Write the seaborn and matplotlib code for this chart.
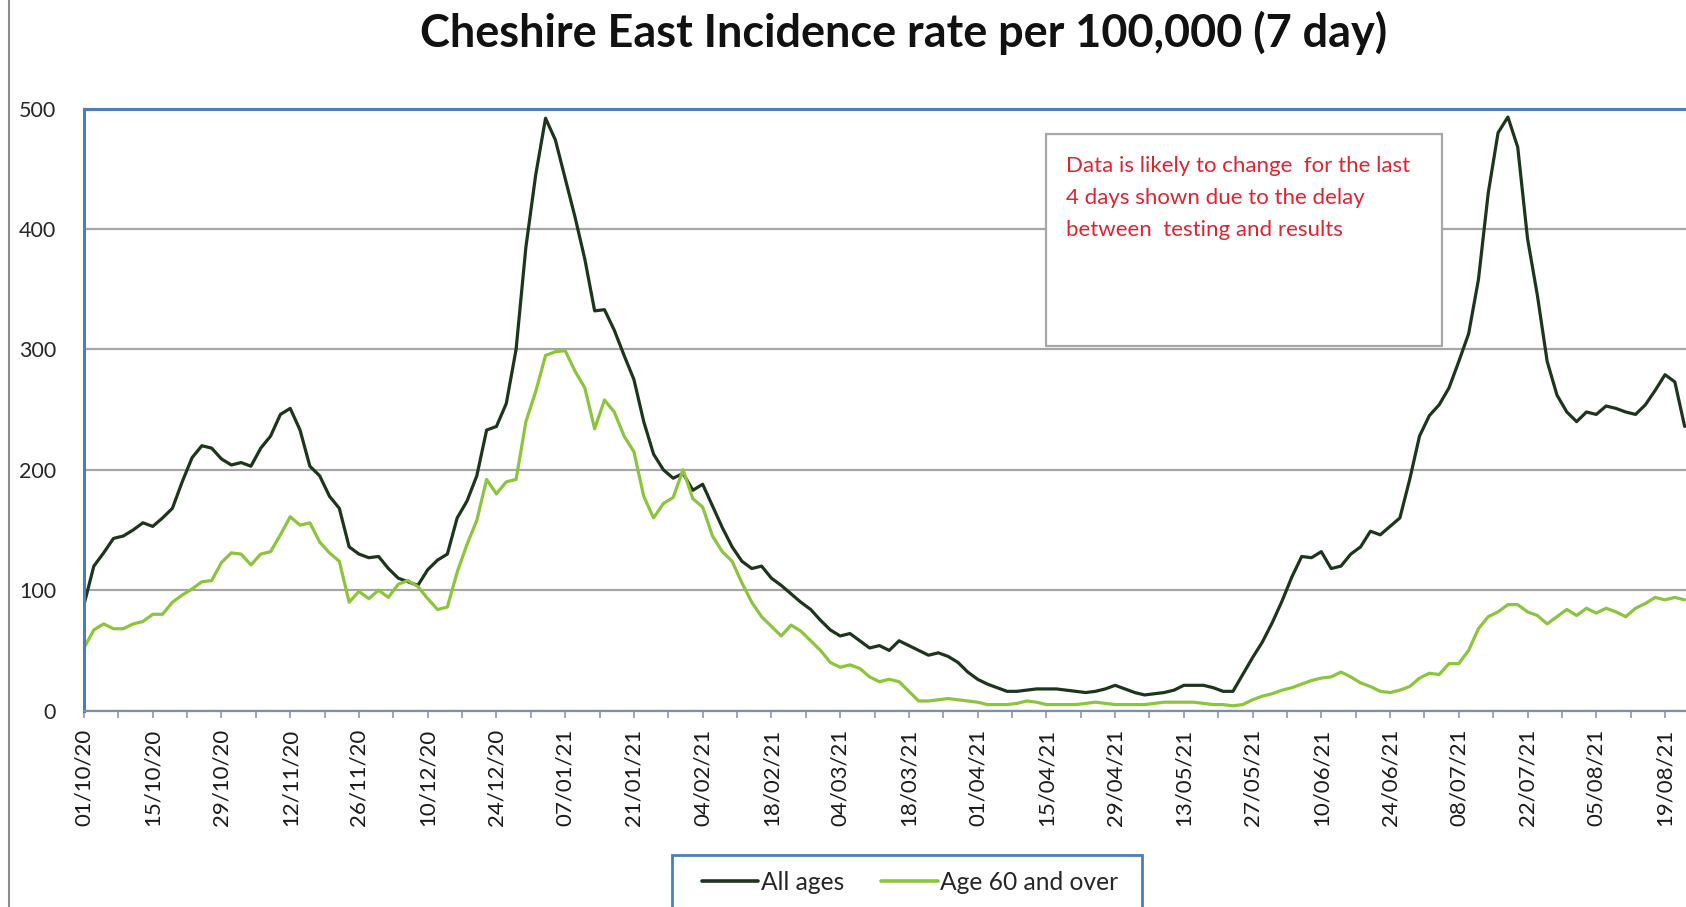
import numpy as np
import pandas as pd
import matplotlib
matplotlib.use("Agg")
import matplotlib.pyplot as plt
import matplotlib.dates as mdates
from matplotlib.lines import Line2D
from matplotlib.patches import Rectangle
import seaborn as sns

# ---------------- data (7-day incidence per 100,000, every 2 days from 01/10/20) ----------------
start_date = "2020-10-01"
step_days = 2
all_ages = [
    88, 120, 131, 143, 145, 150, 156, 153, 160, 168,
    190, 210, 220, 218, 209, 204, 206, 203, 218, 228,
    246, 251, 233, 203, 195, 178, 168, 136, 130, 127,
    128, 118, 110, 107, 104, 117, 125, 130, 160, 174,
    195, 233, 236, 255, 300, 385, 445, 492, 474, 442,
    410, 375, 332, 333, 316, 295, 275, 240, 213, 200,
    193, 197, 183, 188, 170, 152, 136, 124, 118, 120,
    110, 104, 97, 90, 84, 75, 67, 62, 64, 58,
    52, 54, 50, 58, 54, 50, 46, 48, 45, 40,
    32, 26, 22, 19, 16, 16, 17, 18, 18, 18,
    17, 16, 15, 16, 18, 21, 18, 15, 13, 14,
    15, 17, 21, 21, 21, 19, 16, 16, 30, 44,
    57, 73, 91, 111, 128, 127, 132, 118, 120, 130,
    136, 149, 146, 153, 160, 192, 228, 245, 254, 268,
    290, 313, 358, 430, 480, 493, 468, 392, 345, 290,
    262, 248, 240, 248, 246, 253, 251, 248, 246, 254,
    266, 279, 273, 236,
]
age_60_plus = [
    52, 67, 72, 68, 68, 72, 74, 80, 80, 90,
    96, 101, 107, 108, 123, 131, 130, 121, 130, 132,
    146, 161, 154, 156, 140, 131, 124, 90, 99, 93,
    100, 94, 105, 108, 103, 93, 84, 86, 115, 138,
    158, 192, 180, 190, 192, 240, 265, 295, 298, 299,
    282, 268, 234, 258, 248, 228, 215, 178, 160, 172,
    177, 200, 176, 169, 145, 132, 124, 106, 90, 78,
    70, 62, 71, 66, 58, 50, 40, 36, 38, 35,
    28, 24, 26, 24, 16, 8, 8, 9, 10, 9,
    8, 7, 5, 5, 5, 6, 8, 7, 5, 5,
    5, 5, 6, 7, 6, 5, 5, 5, 5, 6,
    7, 7, 7, 7, 6, 5, 5, 4, 5, 9,
    12, 14, 17, 19, 22, 25, 27, 28, 32, 28,
    23, 20, 16, 15, 17, 20, 27, 31, 30, 39,
    39, 50, 68, 78, 82, 88, 88, 82, 79, 72,
    78, 84, 79, 85, 81, 85, 82, 78, 85, 89,
    94, 92, 94, 92,
]
series_names = ["All ages", "Age 60 and over"]
series_colors = ["#1c351c", "#8cc43c"]
y_ticks = [0, 100, 200, 300, 400, 500]
tick_start, tick_end = "2020-10-01", "2021-08-19"
title_text = "Cheshire East Incidence rate per 100,000 (7 day)"
note_text = ("Data is likely to change  for the last\n"
             "4 days shown due to the delay\n"
             "between  testing and results")

# ---------------- build table ----------------
n = len(all_ages)
dates = pd.date_range(start_date, periods=n, freq=f"{step_days}D")
df = pd.DataFrame({
    "date": list(dates) + list(dates),
    "value": all_ages + age_60_plus,
    "series": [series_names[0]] * n + [series_names[1]] * n,
})

# ---------------- style ----------------
sns.set_style("white")
plt.rcParams["font.family"] = ["Lato", "DejaVu Sans"]

W, H = 1686, 907
fig = plt.figure(figsize=(W / 100, H / 100), dpi=100)

left_px, top_px, bottom_px = 84, 108.6, 710.6
px_per_day = 4.91
span_days = 335
ax = fig.add_axes([left_px / W, 1 - bottom_px / H,
                   span_days * px_per_day / W, (bottom_px - top_px) / H])

sns.lineplot(data=df, x="date", y="value", hue="series", hue_order=series_names,
             palette=series_colors, linewidth=2.3, ax=ax, legend=False)

x0 = pd.Timestamp(start_date)
ax.set_xlim(x0, x0 + pd.Timedelta(days=span_days))
ax.set_ylim(0, 500)
ax.set_yticks(y_ticks)
ax.set_xlabel("")
ax.set_ylabel("")

# grid
ax.yaxis.grid(True, color="#a6a6a6", linewidth=1.6)
ax.xaxis.grid(False)
ax.set_axisbelow(True)

# spines
for s in ["top", "left"]:
    ax.spines[s].set_visible(True)
    ax.spines[s].set_color("#4a7ebb")
    ax.spines[s].set_linewidth(2.2)
ax.spines["right"].set_visible(False)
ax.spines["bottom"].set_color("#7f8fa6")
ax.spines["bottom"].set_linewidth(1.6)

# x ticks
major = pd.date_range(tick_start, tick_end, freq="14D")
minor = pd.date_range(tick_start, tick_end, freq="7D")
ax.xaxis.set_major_locator(matplotlib.ticker.FixedLocator(mdates.date2num(major)))
ax.xaxis.set_minor_locator(matplotlib.ticker.FixedLocator(mdates.date2num(minor)))
ax.xaxis.set_major_formatter(mdates.DateFormatter("%d/%m/%y"))
ax.tick_params(axis="x", which="both", bottom=True, length=5, width=1.2,
               color="#8a97aa", direction="out")
ax.tick_params(axis="x", which="major", pad=8, labelsize=16,
               labelcolor="#1a1a1a", labelrotation=90)
ax.tick_params(axis="y", length=0, pad=20, labelsize=15.5, labelcolor="#262626")

# title
fig.text(904 / W, 1 - 33 / H, title_text, ha="center", va="center",
         fontsize=32.4, fontweight="bold", color="#111111")

# note box
bx0, by0, bx1, by1 = 1046, 134, 1442, 346
box = Rectangle((bx0 / W, 1 - by1 / H), (bx1 - bx0) / W, (by1 - by0) / H,
                transform=fig.transFigure, facecolor="white",
                edgecolor="#a8a8a8", linewidth=1.6, zorder=5)
fig.add_artist(box)
fig.text(1066 / W, 1 - 156 / H, note_text, ha="left", va="top",
         fontsize=16, color="#e0242f", linespacing=1.75, zorder=6)

# legend (frame drawn separately: it runs off the bottom of the picture)
lx0, ly0, lx1, ly1 = 672, 855, 1142, 925
lframe = Rectangle((lx0 / W, 1 - ly1 / H), (lx1 - lx0) / W, (ly1 - ly0) / H,
                   transform=fig.transFigure, facecolor="white",
                   edgecolor="#4a7ebb", linewidth=2, zorder=4)
fig.add_artist(lframe)
handles = [Line2D([], [], color=c, linewidth=2.6) for c in series_colors]
leg = fig.legend(handles, series_names, loc="center",
                 bbox_to_anchor=(910 / W, 1 - 882 / H), ncol=2,
                 frameon=False, fontsize=17.7,
                 handlelength=2.3, handletextpad=0.1, columnspacing=1.5,
                 borderpad=0, borderaxespad=0)
leg.set_zorder(6)
for t in leg.get_texts():
    t.set_color("#262626")

# left border of chart area
fig.add_artist(Line2D([9 / W, 9 / W], [0, 1], transform=fig.transFigure,
                      color="#8c8c8c", linewidth=1.5))

fig.savefig("out.png", dpi=100, facecolor="white")
